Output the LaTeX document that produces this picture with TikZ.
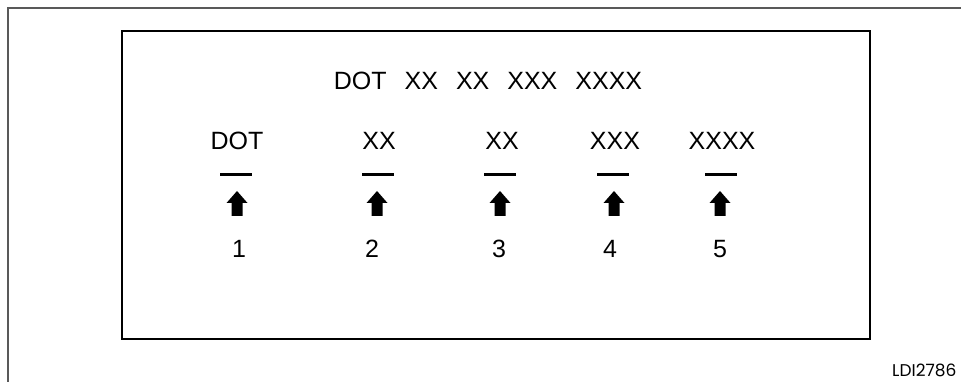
\documentclass[tikz,border=0pt]{standalone}
\usepackage{fontspec}
\setmainfont{Liberation Sans}
\newfontfamily\codefont{Poppins}
\usepackage{tikz}
\usetikzlibrary{positioning}

\tikzset{
  label text/.style={anchor=base, inner sep=0pt, font=\fontsize{25}{30}\selectfont},
  bar/.style={fill=black, minimum width=32pt, minimum height=3pt, inner sep=0pt},
  uparrow/.pic={\fill (0,0) -- (10.5,12) -- (5.5,12) -- (5.5,25) -- (-5.5,25) -- (-5.5,12) -- (-10.5,12) -- cycle;}
}

\begin{document}
\begin{tikzpicture}[x=1pt, y=-1pt]
\useasboundingbox (0,0) rectangle (961,382);
% frames
\draw[black!65, line width=1.5pt] (8,382) -- (8,8) -- (961,8);
\draw[line width=2pt] (122,31) rectangle (870,339);

\node[label text] (title) at (488,90) {\spaceskip=18pt DOT XX XX XXX XXXX};

\node[label text] (lbl1) at (237,150) {DOT};
\node[label text] (lbl2) at (379,150) {XX};
\node[label text] (lbl3) at (502,150) {XX};
\node[label text] (lbl4) at (615,150) {XXX};
\node[label text] (lbl5) at (722,150) {XXXX};

\node[bar] (bar1) at (236,175) {};
\node[bar] (bar2) at (378,175) {};
\node[bar] (bar3) at (500,175) {};
\node[bar] (bar4) at (613,175) {};
\node[bar] (bar5) at (721,175) {};

\pic at (237,191) {uparrow};
\pic at (377,191) {uparrow};
\pic at (500,191) {uparrow};
\pic at (614,191) {uparrow};
\pic at (720,191) {uparrow};

\node[label text] (num1) at (239,258) {1};
\node[label text] (num2) at (372,258) {2};
\node[label text] (num3) at (499,258) {3};
\node[label text] (num4) at (610,258) {4};
\node[label text] (num5) at (720,258) {5};

\node[anchor=base west, inner sep=0pt, font=\codefont\fontsize{17}{20}\selectfont] (code) at (892,376) {LDI2786};
\end{tikzpicture}
\end{document}
